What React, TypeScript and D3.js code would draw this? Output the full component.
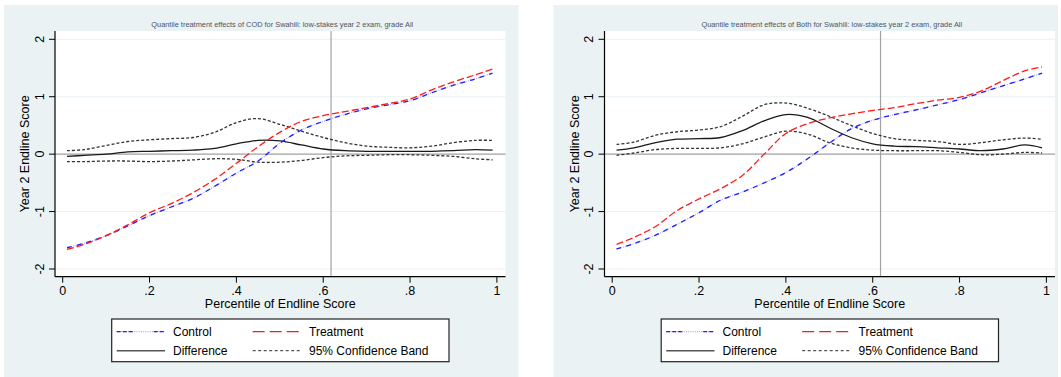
import React from "react";
import * as d3 from "d3";

// Percentile grid shared by every series
const PERCENTILES = [0.01, 0.05, 0.1, 0.15, 0.2, 0.25, 0.3, 0.35, 0.4, 0.45, 0.5, 0.55, 0.6, 0.65, 0.7, 0.75, 0.8, 0.85, 0.9, 0.95, 0.99];

// COD arm
const codControl = [-1.63, -1.55, -1.42, -1.25, -1.07, -0.92, -0.77, -0.56, -0.33, -0.12, 0.19, 0.42, 0.57, 0.69, 0.79, 0.86, 0.93, 1.07, 1.2, 1.31, 1.41];
const codTreatment = [-1.66, -1.57, -1.42, -1.23, -1.02, -0.86, -0.67, -0.44, -0.16, 0.13, 0.38, 0.57, 0.67, 0.74, 0.81, 0.88, 0.96, 1.12, 1.26, 1.38, 1.48];
const codDifference = [-0.04, -0.02, 0.0, 0.04, 0.05, 0.06, 0.07, 0.1, 0.18, 0.24, 0.23, 0.16, 0.09, 0.06, 0.05, 0.05, 0.05, 0.05, 0.06, 0.08, 0.07];
const codUpper = [0.06, 0.08, 0.15, 0.22, 0.25, 0.27, 0.29, 0.38, 0.55, 0.62, 0.52, 0.4, 0.29, 0.2, 0.14, 0.12, 0.11, 0.14, 0.2, 0.24, 0.24];
const codLower = [-0.13, -0.13, -0.12, -0.12, -0.13, -0.12, -0.1, -0.08, -0.09, -0.14, -0.14, -0.11, -0.06, -0.03, -0.02, -0.01, -0.01, -0.02, -0.04, -0.08, -0.1];

// Both arm
const bothControl = [-1.65, -1.56, -1.41, -1.22, -1.02, -0.8, -0.66, -0.5, -0.32, -0.08, 0.19, 0.44, 0.59, 0.69, 0.77, 0.86, 0.95, 1.07, 1.19, 1.31, 1.41];
const bothTreatment = [-1.57, -1.45, -1.26, -0.98, -0.78, -0.6, -0.37, 0.0, 0.36, 0.53, 0.63, 0.7, 0.76, 0.81, 0.88, 0.94, 0.99, 1.1, 1.28, 1.45, 1.52];
const bothDifference = [0.07, 0.11, 0.2, 0.26, 0.27, 0.29, 0.41, 0.58, 0.69, 0.64, 0.46, 0.29, 0.18, 0.14, 0.13, 0.11, 0.09, 0.06, 0.09, 0.16, 0.11];
const bothUpper = [0.17, 0.21, 0.33, 0.39, 0.42, 0.48, 0.66, 0.86, 0.89, 0.8, 0.66, 0.5, 0.36, 0.27, 0.24, 0.22, 0.17, 0.2, 0.25, 0.28, 0.26];
const bothLower = [-0.02, 0.02, 0.08, 0.1, 0.1, 0.11, 0.18, 0.3, 0.4, 0.35, 0.2, 0.11, 0.07, 0.06, 0.06, 0.06, 0.03, -0.01, 0.0, 0.03, 0.02];

const X_TICKS = [0, 0.2, 0.4, 0.6, 0.8, 1];
const X_TICK_LABELS = ["0", ".2", ".4", ".6", ".8", "1"];
const Y_TICKS = [-2, -1, 0, 1, 2];
const Y_TICK_LABELS = ["-2", "-1", "0", "1", "2"];
const REF_X = 0.618;
const REF_Y = 0;

const TITLES = [
  "Quantile treatment effects of COD for Swahili: low-stakes year 2 exam, grade All",
  "Quantile treatment effects of Both for Swahili: low-stakes year 2 exam, grade All",
];
const X_TITLE = "Percentile of Endline Score";
const Y_TITLE = "Year 2 Endline Score";
const LEGEND_LABELS = ["Control", "Treatment", "Difference", "95% Confidence Band"];

const FONT = "'Liberation Sans', Arial, Helvetica, sans-serif";
const BG = "#eaf2f3";

type SeriesSet = { control: number[]; treatment: number[]; difference: number[]; upper: number[]; lower: number[] };

const STYLE = {
  controlDash: { stroke: "#1f1fff", dash: "5,5" },
  controlDot: { stroke: "#a9a9ff", dash: "1,1.2" },
  treatment: { stroke: "#ff1a1a", dash: "7,3" },
  difference: { stroke: "#1a1a1a" },
  band: { stroke: "#333333", dash: "3,2" },
};

function ControlPath({ d }: { d: string | null }) {
  return (
    <g fill="none">
      <path d={d ?? ""} stroke={STYLE.controlDot.stroke} strokeWidth={1.2} strokeDasharray={STYLE.controlDot.dash} />
      <path d={d ?? ""} stroke={STYLE.controlDash.stroke} strokeWidth={1.3} strokeDasharray={STYLE.controlDash.dash} />
    </g>
  );
}

function Panel({ ox, bgWidth, title, s }: { ox: number; bgWidth: number; title: string; s: SeriesSet }) {
  const plotL = ox + 55;
  const plotR = ox + 505.5;
  const plotT = 31;
  const plotB = 276.7;

  const x = d3.scaleLinear().domain([0, 1]).range([ox + 62.7, ox + 496.9]);
  const y = d3.scaleLinear().domain([-2, 2]).range([269, 39.3]);

  const line = d3
    .line<number>()
    .x((_, i) => x(PERCENTILES[i]))
    .y((v) => y(v))
    .curve(d3.curveCatmullRom.alpha(0.5));

  const legL = ox + 111.7;
  const legT = 319;
  const row1 = 331.7;
  const row2 = 350.7;
  const c1a = ox + 116.7;
  const c1b = ox + 165;
  const c2a = ox + 252.7;
  const c2b = ox + 301;

  return (
    <g>
      <rect x={ox + 4} y={5} width={bgWidth} height={372} fill={BG} />
      <rect x={plotL} y={plotT} width={plotR - plotL} height={plotB - plotT} fill="#ffffff" />

      {/* horizontal grid */}
      {Y_TICKS.map((t) => (
        <line key={"g" + t} x1={plotL} x2={plotR} y1={y(t)} y2={y(t)} stroke={BG} strokeWidth={1} />
      ))}

      {/* reference lines */}
      <line x1={plotL} x2={plotR} y1={y(REF_Y)} y2={y(REF_Y)} stroke="#a3a3a3" strokeWidth={1.2} />
      <line x1={x(REF_X)} x2={x(REF_X)} y1={plotT} y2={plotB} stroke="#a3a3a3" strokeWidth={1.2} />

      {/* series */}
      <path d={line(s.upper) ?? ""} fill="none" stroke={STYLE.band.stroke} strokeWidth={1.3} strokeDasharray={STYLE.band.dash} />
      <path d={line(s.lower) ?? ""} fill="none" stroke={STYLE.band.stroke} strokeWidth={1.3} strokeDasharray={STYLE.band.dash} />
      <path d={line(s.difference) ?? ""} fill="none" stroke={STYLE.difference.stroke} strokeWidth={1.3} />
      <ControlPath d={line(s.control)} />
      <path d={line(s.treatment) ?? ""} fill="none" stroke={STYLE.treatment.stroke} strokeWidth={1.3} strokeDasharray={STYLE.treatment.dash} />

      {/* axes */}
      <line x1={plotL} x2={plotL} y1={plotT} y2={plotB} stroke="#000" strokeWidth={1.2} />
      <line x1={plotL} x2={plotR} y1={plotB} y2={plotB} stroke="#000" strokeWidth={1.2} />
      {Y_TICKS.map((t, i) => (
        <g key={"y" + t}>
          <line x1={plotL - 6} x2={plotL} y1={y(t)} y2={y(t)} stroke="#000" strokeWidth={1} />
          <text
            transform={`translate(${ox + 39.5},${y(t)}) rotate(-90)`}
            textAnchor="middle"
            dy="0.35em"
            fontSize={12.5}
            fontFamily={FONT}
            fill="#000"
          >
            {Y_TICK_LABELS[i]}
          </text>
        </g>
      ))}
      {X_TICKS.map((t, i) => (
        <g key={"x" + t}>
          <line x1={x(t)} x2={x(t)} y1={plotB} y2={plotB + 6} stroke="#000" strokeWidth={1} />
          <text x={x(t)} y={294.5} textAnchor="middle" fontSize={12.5} fontFamily={FONT} fill="#000">
            {X_TICK_LABELS[i]}
          </text>
        </g>
      ))}
      <text x={(plotL + plotR) / 2} y={307.5} textAnchor="middle" fontSize={12.5} fontFamily={FONT} fill="#000">
        {X_TITLE}
      </text>
      <text
        transform={`translate(${ox + 25},${(plotT + plotB) / 2}) rotate(-90)`}
        textAnchor="middle"
        dy="0.35em"
        fontSize={12.5}
        fontFamily={FONT}
        fill="#000"
      >
        {Y_TITLE}
      </text>

      {/* title */}
      <text x={(plotL + plotR) / 2 + 2} y={27} textAnchor="middle" fontSize={7.4} fontFamily={FONT} fill="#4a5468">
        {title}
      </text>

      {/* legend */}
      <rect x={legL} y={legT} width={337.3} height={42.7} fill="#fff" stroke="#222" strokeWidth={1.2} />
      <g fill="none">
        <line x1={c1a} x2={c1b} y1={row1} y2={row1} stroke={STYLE.controlDot.stroke} strokeWidth={1.2} strokeDasharray={STYLE.controlDot.dash} />
        <line x1={c1a} x2={c1b} y1={row1} y2={row1} stroke={STYLE.controlDash.stroke} strokeWidth={1.3} strokeDasharray="4,2,4,2,4,21" />
        <line x1={c2a} x2={c2b} y1={row1} y2={row1} stroke={STYLE.treatment.stroke} strokeWidth={1.3} strokeDasharray="12,5" />
        <line x1={c1a} x2={c1b} y1={row2} y2={row2} stroke="#555" strokeWidth={1.6} />
        <line x1={c2a} x2={c2b} y1={row2} y2={row2} stroke="#555" strokeWidth={1.3} strokeDasharray="3,2.5" />
      </g>
      <g fontSize={12} fontFamily={FONT} fill="#000">
        <text x={ox + 173} y={row1} dy="0.35em">{LEGEND_LABELS[0]}</text>
        <text x={ox + 309} y={row1} dy="0.35em">{LEGEND_LABELS[1]}</text>
        <text x={ox + 173} y={row2} dy="0.35em">{LEGEND_LABELS[2]}</text>
        <text x={ox + 309} y={row2} dy="0.35em">{LEGEND_LABELS[3]}</text>
      </g>
    </g>
  );
}

export default function App() {
  const cod: SeriesSet = { control: codControl, treatment: codTreatment, difference: codDifference, upper: codUpper, lower: codLower };
  const both: SeriesSet = { control: bothControl, treatment: bothTreatment, difference: bothDifference, upper: bothUpper, lower: bothLower };
  return (
    <svg width={1061} height={377} style={{ position: "absolute", left: 0, top: 0, background: "#fff" }}>
      <Panel ox={0} bgWidth={514.5} title={TITLES[0]} s={cod} />
      <Panel ox={549.5} bgWidth={504.5} title={TITLES[1]} s={both} />
    </svg>
  );
}
